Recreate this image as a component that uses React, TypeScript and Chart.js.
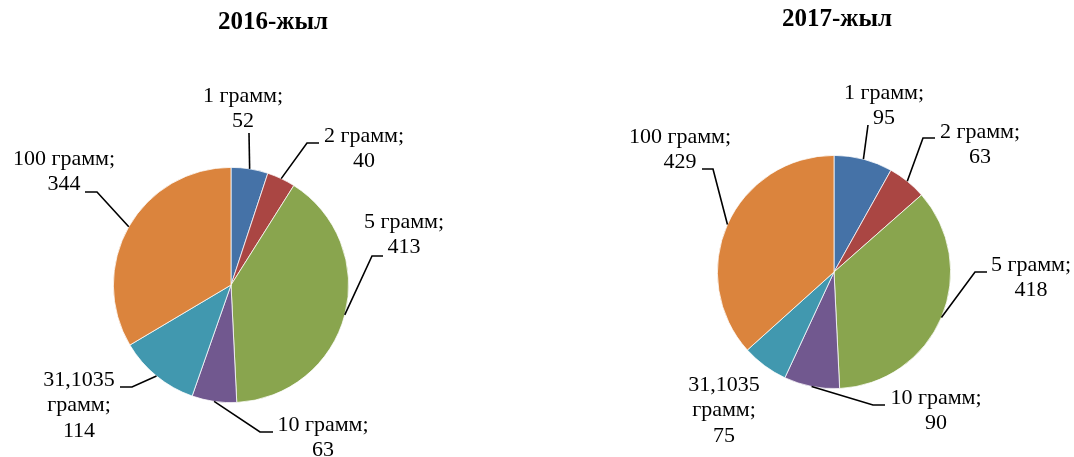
import React, { useEffect, useRef } from "react";
import { Chart, registerables } from "chart.js";

Chart.register(...registerables);

// ---- data ----
const categories = ["1 грамм", "2 грамм", "5 грамм", "10 грамм", "31,1035 грамм", "100 грамм"];
const categoryLines = [["1 грамм;"], ["2 грамм;"], ["5 грамм;"], ["10 грамм;"], ["31,1035", "грамм;"], ["100 грамм;"]];
const values2016 = [52, 40, 413, 63, 114, 344];
const values2017 = [95, 63, 418, 90, 75, 429];
const chartTitles = ["2016-жыл", "2017-жыл"];

// ---- styles / layout ----
const sliceColors = ["#4572A7", "#AA4643", "#89A54E", "#71588F", "#4198AF", "#DB843D"];
const FONT = "'Liberation Serif', 'Times New Roman', serif";

type LabelPos = { tx: number; ty: number; elbow?: [number, number]; tail?: number };

// offsets relative to pie centre
const layout2016: LabelPos[] = [
  { tx: 12, ty: -189, elbow: [18, -152] },
  { tx: 133, ty: -149, elbow: [76, -142], tail: 12 },
  { tx: 173, ty: -63, elbow: [141, -29], tail: 11 },
  { tx: 92, ty: 140, elbow: [29, 147], tail: 13 },
  { tx: -152, ty: 95, elbow: [-99, 102], tail: -12 },
  { tx: -167, ty: -126, elbow: [-134, -93], tail: -12 },
];
const layout2017: LabelPos[] = [
  { tx: 50, ty: -179, elbow: [34, -147] },
  { tx: 146, ty: -140, elbow: [89, -134], tail: 12 },
  { tx: 197, ty: -7, elbow: [141, 0], tail: 12 },
  { tx: 102, ty: 126, elbow: [39, 133], tail: 12 },
  { tx: -110, ty: 113 },
  { tx: -154, ty: -135, elbow: [-121, -103], tail: -11 },
];

const labelPlugin = {
  id: "pieLabels",
  afterDatasetsDraw(chart: any, _args: any, opts: any) {
    const ctx = chart.ctx;
    const meta = chart.getDatasetMeta(0);
    const values: number[] = chart.data.datasets[0].data;
    const lay: LabelPos[] = opts.layout;
    ctx.save();
    // title
    ctx.fillStyle = "#000";
    ctx.font = `bold 25px ${FONT}`;
    ctx.textAlign = "center";
    ctx.textBaseline = "middle";
    ctx.fillText(opts.title, opts.titleX, opts.titleY);

    ctx.font = `22px ${FONT}`;
    meta.data.forEach((arc: any, i: number) => {
      const p = arc.getProps(["x", "y", "startAngle", "endAngle", "outerRadius"], true);
      const L = lay[i];
      const mid = (p.startAngle + p.endAngle) / 2;
      const ax = p.x + Math.cos(mid) * p.outerRadius;
      const ay = p.y + Math.sin(mid) * p.outerRadius;
      if (L.elbow) {
        ctx.beginPath();
        ctx.strokeStyle = "#000";
        ctx.lineWidth = 1.6;
        ctx.moveTo(ax, ay);
        const ex = p.x + L.elbow[0];
        const ey = p.y + L.elbow[1];
        ctx.lineTo(ex, ey);
        if (L.tail) ctx.lineTo(ex + L.tail, ey);
        ctx.stroke();
      }
      const lines = [...categoryLines[i], String(values[i])];
      lines.forEach((t, k) => {
        ctx.fillText(t, p.x + L.tx, p.y + L.ty + k * 25.5);
      });
    });
    ctx.restore();
  },
};

function PieChart(props: {
  values: number[];
  title: string;
  padding: { left: number; top: number; right: number; bottom: number };
  layout: LabelPos[];
  titleX: number;
  titleY: number;
}) {
  const ref = useRef<HTMLCanvasElement | null>(null);
  useEffect(() => {
    if (!ref.current) return;
    const chart = new Chart(ref.current, {
      type: "pie",
      data: {
        labels: categories,
        datasets: [
          {
            data: props.values,
            backgroundColor: sliceColors,
            borderColor: "#ffffff",
            borderWidth: 0.75,
            hoverOffset: 0,
          },
        ],
      },
      options: {
        animation: false,
        responsive: false,
        maintainAspectRatio: false,
        layout: { padding: props.padding },
        plugins: {
          legend: { display: false },
          tooltip: { enabled: false },
          title: { display: false },
          pieLabels: {
            layout: props.layout,
            title: props.title,
            titleX: props.titleX,
            titleY: props.titleY,
          },
        } as any,
      },
      plugins: [labelPlugin],
    });
    return () => chart.destroy();
  }, []);
  return <canvas ref={ref} width={537} height={457} style={{ display: "block", width: 537, height: 457 }} />;
}

export default function App() {
  return (
    <div
      style={{
        position: "fixed",
        left: 0,
        top: 0,
        width: 1074,
        height: 457,
        background: "#fff",
        display: "flex",
        flexDirection: "row",
      }}
    >
      <PieChart
        values={values2016}
        title={chartTitles[0]}
        padding={{ left: 113, top: 167, right: 188, bottom: 54 }}
        layout={layout2016}
        titleX={273}
        titleY={23}
      />
      <PieChart
        values={values2017}
        title={chartTitles[1]}
        padding={{ left: 180, top: 155, right: 123, bottom: 68 }}
        layout={layout2017}
        titleX={300}
        titleY={20}
      />
    </div>
  );
}
